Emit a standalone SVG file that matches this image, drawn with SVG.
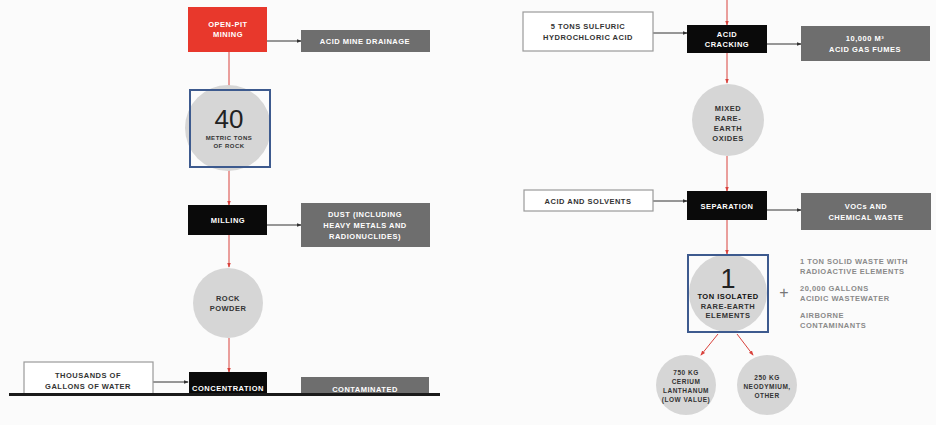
<svg xmlns="http://www.w3.org/2000/svg" width="936" height="425" viewBox="0 0 936 425">
  <defs>
    <marker id="arr-red" viewBox="0 0 6 6" refX="5" refY="3" markerWidth="5" markerHeight="5" orient="auto">
      <path d="M0,0.8 L6,3 L0,5.2 Z" fill="#d9423c"/>
    </marker>
    <marker id="arr-dark" viewBox="0 0 6 6" refX="5" refY="3" markerWidth="5" markerHeight="5" orient="auto">
      <path d="M0,0.8 L6,3 L0,5.2 Z" fill="#333"/>
    </marker>
    <clipPath id="above-rule">
      <rect x="0" y="0" width="936" height="394"/>
    </clipPath>
  </defs>
  <style>
    text { font-family: "Liberation Sans", "DejaVu Sans", sans-serif; font-weight: bold; text-anchor: middle; font-size: 7.5px; letter-spacing: 0.5px; }
    .w { fill: #ffffff; }
    .d { fill: #333333; }
    .g { fill: #8a8a8a; text-anchor: start; }
    .big { font-weight: normal; font-size: 26px; letter-spacing: 0; fill: #222; }
    .red { fill: #e8382c; }
    .blk { fill: #0a0a0a; }
    .gry { fill: #6e6e6e; }
    .inp { fill: #ffffff; stroke: #9a9a9a; stroke-width: 1.2; }
    .disc { fill: #d6d6d6; }
    .frame { fill: none; stroke: #3d5a8e; stroke-width: 2; }
    .flow { stroke: #d9423c; stroke-width: 1; fill: none; marker-end: url(#arr-red); }
    .side { stroke: #333; stroke-width: 1; fill: none; marker-end: url(#arr-dark); }
  </style>

  <rect x="0" y="0" width="936" height="425" fill="#fbfbfb"/>

  <!-- connectors -->
  <g id="connectors">
    <line class="flow" x1="229" y1="52" x2="229" y2="90"/>
    <line class="flow" x1="229" y1="167" x2="229" y2="205"/>
    <line class="flow" x1="229" y1="235" x2="229" y2="267"/>
    <line class="flow" x1="229" y1="338" x2="229" y2="372"/>
    <line class="side" x1="267" y1="41" x2="301" y2="41"/>
    <line class="side" x1="267" y1="225" x2="301" y2="225"/>
    <line class="side" x1="153" y1="382" x2="188" y2="382"/>

    <line class="flow" x1="727" y1="0" x2="727" y2="25"/>
    <line class="flow" x1="727" y1="53" x2="727" y2="83"/>
    <line class="flow" x1="727" y1="156" x2="727" y2="191"/>
    <line class="flow" x1="727" y1="220" x2="727" y2="254"/>
    <line class="side" x1="653" y1="33" x2="687" y2="33"/>
    <line class="side" x1="767" y1="44" x2="801" y2="44"/>
    <line class="side" x1="653" y1="201" x2="687" y2="201"/>
    <line class="side" x1="767" y1="210" x2="801" y2="210"/>
    <line class="flow" x1="718" y1="334" x2="701" y2="355"/>
    <line class="flow" x1="737" y1="334" x2="753" y2="355"/>
  </g>

  <!-- left column -->
  <g id="open-pit-mining">
    <rect class="red" x="188" y="7" width="79" height="45"/>
    <text class="w" x="228" y="27">OPEN-PIT</text>
    <text class="w" x="228" y="37">MINING</text>
  </g>
  <g id="acid-mine-drainage">
    <rect class="gry" x="301" y="30" width="129" height="22"/>
    <text class="w" x="365" y="44">ACID MINE DRAINAGE</text>
  </g>
  <g id="rock-40">
    <circle class="disc" cx="228" cy="128" r="43"/>
    <rect class="frame" x="190" y="90" width="80" height="77"/>
    <text class="big" x="229" y="128">40</text>
    <text class="d" x="229" y="140" style="font-size:6px">METRIC TONS</text>
    <text class="d" x="229" y="148" style="font-size:6px">OF ROCK</text>
  </g>
  <g id="milling">
    <rect class="blk" x="188" y="205" width="79" height="30"/>
    <text class="w" x="228" y="223">MILLING</text>
  </g>
  <g id="dust">
    <rect class="gry" x="301" y="203" width="129" height="44"/>
    <text class="w" x="365" y="217">DUST (INCLUDING</text>
    <text class="w" x="365" y="228">HEAVY METALS AND</text>
    <text class="w" x="365" y="239">RADIONUCLIDES)</text>
  </g>
  <g id="rock-powder">
    <circle class="disc" cx="228" cy="303" r="35"/>
    <text class="d" x="228" y="301">ROCK</text>
    <text class="d" x="228" y="311">POWDER</text>
  </g>
  <g id="water" clip-path="url(#above-rule)">
    <rect class="inp" x="24" y="362" width="129" height="40"/>
    <text class="d" x="88" y="378">THOUSANDS OF</text>
    <text class="d" x="88" y="389">GALLONS OF WATER</text>
  </g>
  <g id="concentration" clip-path="url(#above-rule)">
    <rect class="blk" x="189" y="372" width="78" height="30"/>
    <text class="w" x="228" y="391">CONCENTRATION</text>
  </g>
  <g id="contaminated" clip-path="url(#above-rule)">
    <rect class="gry" x="301" y="377" width="128" height="25"/>
    <text class="w" x="365" y="392">CONTAMINATED</text>
  </g>
  <rect x="9" y="393" width="431" height="3" fill="#1a1a1a"/>

  <!-- right column -->
  <g id="acid-input">
    <rect class="inp" x="523" y="12" width="130" height="39"/>
    <text class="d" x="588" y="29">5 TONS SULFURIC</text>
    <text class="d" x="588" y="40">HYDROCHLORIC ACID</text>
  </g>
  <g id="acid-cracking">
    <rect class="blk" x="687" y="25" width="80" height="28"/>
    <text class="w" x="727" y="37">ACID</text>
    <text class="w" x="727" y="47">CRACKING</text>
  </g>
  <g id="acid-gas">
    <rect class="gry" x="801" y="26" width="129" height="35"/>
    <text class="w" x="865" y="41">10,000 M³</text>
    <text class="w" x="865" y="52">ACID GAS FUMES</text>
  </g>
  <g id="mixed-oxides">
    <circle class="disc" cx="728" cy="120" r="36"/>
    <text class="d" x="728" y="111">MIXED</text>
    <text class="d" x="728" y="121">RARE-</text>
    <text class="d" x="728" y="131">EARTH</text>
    <text class="d" x="728" y="141">OXIDES</text>
  </g>
  <g id="acid-solvents">
    <rect class="inp" x="524" y="190" width="129" height="21"/>
    <text class="d" x="588" y="204">ACID AND SOLVENTS</text>
  </g>
  <g id="separation">
    <rect class="blk" x="687" y="191" width="80" height="29"/>
    <text class="w" x="727" y="209">SEPARATION</text>
  </g>
  <g id="vocs">
    <rect class="gry" x="801" y="193" width="130" height="37"/>
    <text class="w" x="866" y="209">VOCs AND</text>
    <text class="w" x="866" y="220">CHEMICAL WASTE</text>
  </g>
  <g id="isolated-1">
    <circle class="disc" cx="728" cy="293" r="39"/>
    <rect class="frame" x="688" y="255" width="80" height="77"/>
    <text class="big" x="728" y="288" style="font-size:27px">1</text>
    <text class="d" x="728" y="299" style="fill:#111">TON ISOLATED</text>
    <text class="d" x="728" y="309">RARE-EARTH</text>
    <text class="d" x="728" y="318">ELEMENTS</text>
  </g>
  <g id="byproducts">
    <text x="784" y="298" style="font-weight:normal;font-size:16px;fill:#777;letter-spacing:0">+</text>
    <text class="g" x="800" y="264">1 TON SOLID WASTE WITH</text>
    <text class="g" x="800" y="274">RADIOACTIVE ELEMENTS</text>
    <text class="g" x="800" y="291">20,000 GALLONS</text>
    <text class="g" x="800" y="301">ACIDIC WASTEWATER</text>
    <text class="g" x="800" y="318">AIRBORNE</text>
    <text class="g" x="800" y="328">CONTAMINANTS</text>
  </g>
  <g id="cerium">
    <circle class="disc" cx="686" cy="385" r="30"/>
    <text class="d" x="686" y="375" style="font-size:6.5px">750 KG</text>
    <text class="d" x="686" y="384" style="font-size:6.5px">CERIUM</text>
    <text class="d" x="686" y="393" style="font-size:6.5px">LANTHANUM</text>
    <text class="d" x="686" y="402" style="font-size:6.5px">(LOW VALUE)</text>
  </g>
  <g id="neodymium">
    <circle class="disc" cx="767" cy="385" r="30"/>
    <text class="d" x="767" y="380" style="font-size:6.5px">250 KG</text>
    <text class="d" x="767" y="389" style="font-size:6.5px">NEODYMIUM,</text>
    <text class="d" x="767" y="398" style="font-size:6.5px">OTHER</text>
  </g>
</svg>
